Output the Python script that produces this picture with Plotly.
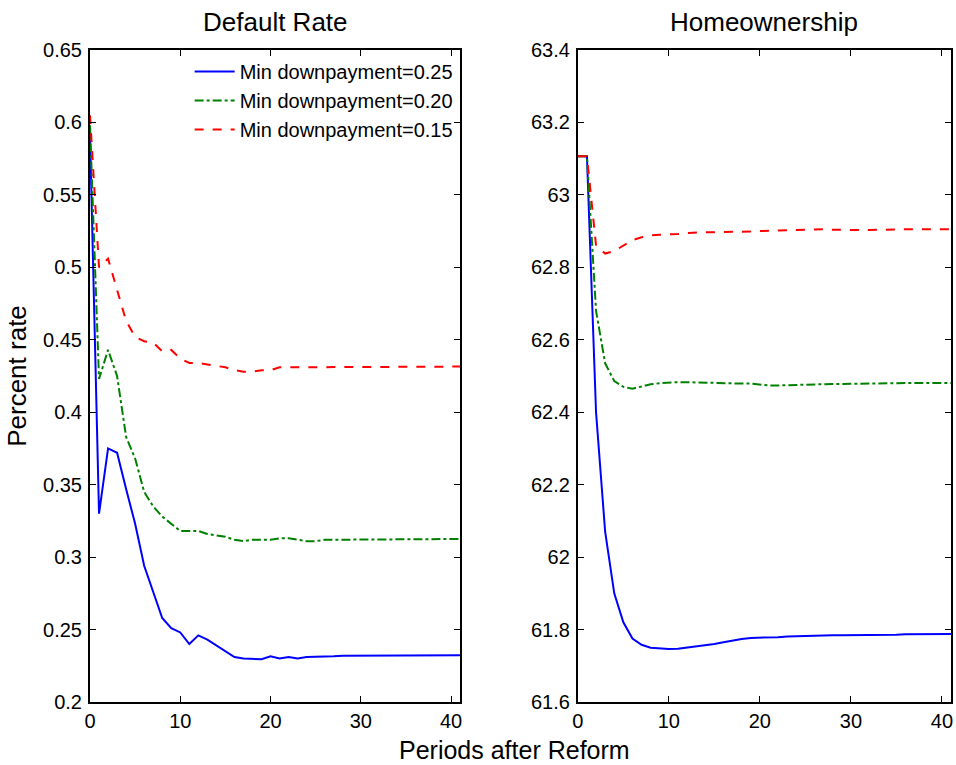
import plotly.graph_objects as go

periods = list(range(42))

default_025 = [0.592, 0.330, 0.375, 0.372, 0.347, 0.323, 0.294, 0.276, 0.258, 0.251,
               0.248, 0.240, 0.246, 0.243, 0.239, 0.235, 0.231, 0.230, 0.230, 0.2295,
               0.2315, 0.230, 0.231, 0.230, 0.231, 0.231, 0.2315, 0.2315, 0.232, 0.232,
               0.2322, 0.2322, 0.2322, 0.2322, 0.2322, 0.2322, 0.2322, 0.2322, 0.2322, 0.2322,
               0.2322, 0.2322]
default_020 = [0.598, 0.423, 0.443, 0.425, 0.383, 0.368, 0.345, 0.335, 0.328, 0.323,
               0.318, 0.318, 0.318, 0.316, 0.315, 0.314, 0.312, 0.311, 0.312, 0.312,
               0.312, 0.313, 0.313, 0.312, 0.311, 0.311, 0.312, 0.312, 0.312, 0.312,
               0.3125, 0.3125, 0.3125, 0.3125, 0.3125, 0.3125, 0.3125, 0.3125, 0.3125, 0.3125,
               0.3125, 0.3125]
default_015 = [0.605, 0.500, 0.506, 0.485, 0.463, 0.452, 0.449, 0.448, 0.442, 0.443,
               0.437, 0.434, 0.434, 0.433, 0.432, 0.431, 0.429, 0.428, 0.428, 0.429,
               0.429, 0.431, 0.431, 0.431, 0.431, 0.431, 0.4315, 0.4315, 0.4315, 0.4315,
               0.4315, 0.4315, 0.4315, 0.4315, 0.4315, 0.4315, 0.4315, 0.4315, 0.4315, 0.4315,
               0.4315, 0.4315]

home_025 = [63.107, 63.107, 62.40, 62.07, 61.90, 61.82, 61.775, 61.758, 61.750, 61.747,
            61.746, 61.747, 61.750, 61.752, 61.757, 61.760, 61.765, 61.770, 61.774, 61.777,
            61.777, 61.777, 61.779, 61.781, 61.782, 61.783, 61.784, 61.785, 61.784, 61.784,
            61.784, 61.784, 61.784, 61.785, 61.786, 61.786, 61.787, 61.787, 61.787, 61.788,
            61.788, 61.788]
home_020 = [63.107, 63.107, 62.68, 62.535, 62.486, 62.470, 62.465, 62.472, 62.477, 62.480,
            62.482, 62.483, 62.483, 62.482, 62.481, 62.481, 62.480, 62.480, 62.479, 62.479,
            62.476, 62.474, 62.474, 62.475, 62.476, 62.477, 62.478, 62.479, 62.478, 62.478,
            62.478, 62.478, 62.479, 62.479, 62.480, 62.480, 62.481, 62.481, 62.481, 62.481,
            62.481, 62.481]
home_015 = [63.107, 63.107, 62.860, 62.838, 62.845, 62.860, 62.875, 62.883, 62.888, 62.890,
            62.890, 62.892, 62.895, 62.897, 62.897, 62.897, 62.897, 62.898, 62.899, 62.899,
            62.900, 62.901, 62.902, 62.903, 62.904, 62.904, 62.905, 62.905, 62.904, 62.903,
            62.903, 62.903, 62.903, 62.904, 62.904, 62.904, 62.905, 62.905, 62.905, 62.905,
            62.905, 62.905]

series_names = ["Min downpayment=0.25", "Min downpayment=0.20", "Min downpayment=0.15"]
colors = ["#0000ff", "#008000", "#ff0000"]
dashes = ["solid", "dashdot", "dash"]

left_ticks = [0.2, 0.25, 0.3, 0.35, 0.4, 0.45, 0.5, 0.55, 0.6, 0.65]
right_ticks = [61.6, 61.8, 62.0, 62.2, 62.4, 62.6, 62.8, 63.0, 63.2, 63.4]
right_labels = ["61.6", "61.8", "62", "62.2", "62.4", "62.6", "62.8", "63", "63.2", "63.4"]
x_ticks = [0, 10, 20, 30, 40]

FONT = "Liberation Sans, Arial, Helvetica, sans-serif"

fig = go.Figure()
for name, ys, c, d in zip(series_names, [default_025, default_020, default_015], colors, dashes):
    fig.add_trace(go.Scatter(x=periods, y=ys, mode="lines", name=name,
                             line=dict(color=c, dash=d, width=2), xaxis="x", yaxis="y"))
for name, ys, c, d in zip(series_names, [home_025, home_020, home_015], colors, dashes):
    fig.add_trace(go.Scatter(x=periods, y=ys, mode="lines", name=name, showlegend=False,
                             line=dict(color=c, dash=d, width=2), xaxis="x2", yaxis="y2"))

L_DOM = [0.0, 0.4299]
R_DOM = [0.5666, 1.0]

axis_common = dict(showline=True, linecolor="black", linewidth=2, mirror="allticks",
                   ticks="inside", ticklen=6, tickcolor="black", showgrid=False,
                   zeroline=False, tickfont=dict(size=20, color="black", family=FONT))

fig.update_layout(
    width=956, height=765,
    margin=dict(l=90, r=3, t=50, b=63),
    paper_bgcolor="white", plot_bgcolor="white",
    font=dict(family=FONT, color="black"),
    xaxis=dict(domain=L_DOM, range=[0, 41], tickvals=x_ticks, anchor="y", **axis_common),
    yaxis=dict(domain=[0, 1], range=[0.2, 0.65], tickvals=left_ticks,
               ticktext=[f"{v:g}" for v in left_ticks], anchor="x",
               title=dict(text="Percent rate", font=dict(size=26, family=FONT), standoff=9),
               ticklabelstandoff=2, **axis_common),
    xaxis2=dict(domain=R_DOM, range=[0, 41], tickvals=x_ticks, anchor="y2", **axis_common),
    yaxis2=dict(domain=[0, 1], range=[61.6, 63.4], tickvals=right_ticks, ticktext=right_labels,
                anchor="x2", ticklabelstandoff=2, **axis_common),
    legend=dict(x=0.427, y=0.997, xanchor="right", yanchor="top", bgcolor="rgba(255,255,255,0)",
                font=dict(size=20, family=FONT, color="black"), tracegroupgap=0,
                itemwidth=40, borderwidth=0),
    showlegend=True,
    annotations=[
        dict(text="Default Rate", x=sum(L_DOM) / 2, y=1.043, xref="paper", yref="paper",
             showarrow=False, font=dict(size=26, family=FONT), xanchor="center", yanchor="middle"),
        dict(text="Homeownership", x=sum(R_DOM) / 2, y=1.043, xref="paper", yref="paper",
             showarrow=False, font=dict(size=26, family=FONT), xanchor="center", yanchor="middle"),
        dict(text="Periods after Reform", x=0.4936, y=-0.073, xref="paper", yref="paper",
             showarrow=False, font=dict(size=25, family=FONT), xanchor="center", yanchor="middle"),
    ],
)

fig.write_html("out.html")
